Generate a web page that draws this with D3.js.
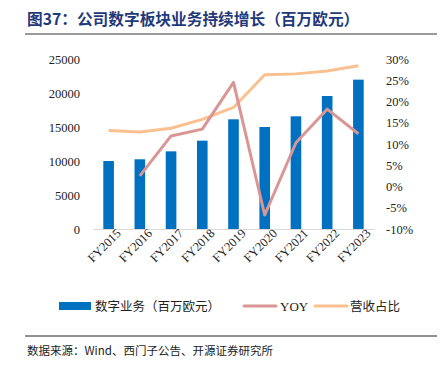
<!DOCTYPE html>
<html>
<head>
<meta charset="utf-8">
<script src="https://cdn.jsdelivr.net/npm/d3@7"></script>
<style>
  body { margin: 0; background: #fff; }
  svg { display: block; }
</style>
</head>
<body>
<div id="chart"></div>
<script>
// data
const years = ["FY2015", "FY2016", "FY2017", "FY2018", "FY2019", "FY2020", "FY2021", "FY2022", "FY2023"];
const digitalRevenue = [10000, 10250, 11420, 12990, 16130, 15000, 16570, 19560, 21960];
const yoy = [null, 2.5, 11.9, 13.5, 24.5, -6.7, 10.3, 18.2, 12.4];
const revenueShare = [13.2, 12.8, 13.7, 15.8, 18.6, 26.3, 26.5, 27.2, 28.4];
const leftTicks = [0, 5000, 10000, 15000, 20000, 25000];
const rightTicks = [-10, -5, 0, 5, 10, 15, 20, 25, 30];

const W = 446, H = 380;
const margin = { top: 59, left: 93, right: 72, bottom: 151 };
const width = W - margin.left - margin.right;
const height = H - margin.top - margin.bottom;

const serif = "'Liberation Serif', 'Times New Roman', serif";
const cjk = "'Noto Sans CJK SC', sans-serif";

const svg = d3.select("#chart").append("svg")
    .attr("width", W)
    .attr("height", H);

// title
svg.append("text")
    .attr("x", 27)
    .attr("y", 25)
    .attr("fill", "#1f3a7a")
    .attr("font-family", cjk)
    .attr("font-weight", "bold")
    .attr("font-size", 15.7)
    .text("图37：公司数字板块业务持续增长（百万欧元）");

svg.append("line")
    .attr("x1", 25).attr("x2", 437)
    .attr("y1", 34).attr("y2", 34)
    .attr("stroke", "#9a9a9a")
    .attr("stroke-width", 2);

const g = svg.append("g")
    .attr("transform", "translate(" + margin.left + "," + margin.top + ")");

const x = d3.scaleBand()
    .domain(years)
    .range([0, width])
    .paddingInner(0.66)
    .paddingOuter(0.33);

const y = d3.scaleLinear()
    .domain([0, 25000])
    .range([height, 0]);

const y2 = d3.scaleLinear()
    .domain([-10, 30])
    .range([height, 0]);

// left axis
const leftAxis = g.append("g")
    .call(d3.axisLeft(y).tickValues(leftTicks).tickSize(0).tickPadding(13)
        .tickFormat(d3.format("d")));
leftAxis.select(".domain").remove();
leftAxis.selectAll("text")
    .attr("font-family", serif)
    .attr("font-size", 12.5)
    .attr("fill", "#222");

// right axis
const rightAxis = g.append("g")
    .attr("transform", "translate(" + width + ",0)")
    .call(d3.axisRight(y2).tickValues(rightTicks).tickSize(0).tickPadding(12)
        .tickFormat(d => d + "%"));
rightAxis.select(".domain").remove();
rightAxis.selectAll("text")
    .attr("font-family", serif)
    .attr("font-size", 12.5)
    .attr("fill", "#222");

// bars
g.selectAll(".bar")
    .data(digitalRevenue)
    .enter().append("rect")
    .attr("class", "bar")
    .attr("x", (d, i) => x(years[i]))
    .attr("y", d => y(d))
    .attr("width", x.bandwidth())
    .attr("height", d => height - y(d))
    .attr("fill", "#0070c0");

// bottom axis
const bottomAxis = g.append("g")
    .attr("transform", "translate(0," + height + ")")
    .call(d3.axisBottom(x).tickSize(0).tickPadding(6));
bottomAxis.select(".domain")
    .attr("stroke", "#d9d9d9");
bottomAxis.selectAll("text")
    .attr("font-family", serif)
    .attr("font-size", 12.5)
    .attr("fill", "#222")
    .attr("text-anchor", "end")
    .attr("dx", "0.45em")
    .attr("dy", "0.55em")
    .attr("transform", "rotate(-45)");

const cx = d => x(d) + x.bandwidth() / 2;

// share line
const shareLine = d3.line()
    .x((d, i) => cx(years[i]))
    .y(d => y2(d));

g.append("path")
    .datum(revenueShare)
    .attr("fill", "none")
    .attr("stroke", "#fac08f")
    .attr("stroke-width", 3)
    .attr("stroke-linejoin", "round")
    .attr("d", shareLine);

// yoy line
const yoyLine = d3.line()
    .defined(d => d != null)
    .x((d, i) => cx(years[i]))
    .y(d => y2(d));

g.append("path")
    .datum(yoy)
    .attr("fill", "none")
    .attr("stroke", "#d99694")
    .attr("stroke-width", 3)
    .attr("stroke-linejoin", "round")
    .attr("d", yoyLine);

// legend
const legend = svg.append("g").attr("transform", "translate(0,306)");

legend.append("rect")
    .attr("x", 59).attr("y", -4)
    .attr("width", 32).attr("height", 8)
    .attr("fill", "#0070c0");
legend.append("text")
    .attr("x", 95).attr("y", 5)
    .attr("font-family", cjk)
    .attr("font-size", 12.5)
    .attr("fill", "#222")
    .text("数字业务（百万欧元）");

legend.append("line")
    .attr("x1", 244).attr("x2", 276)
    .attr("y1", 0).attr("y2", 0)
    .attr("stroke", "#d99694")
    .attr("stroke-width", 3)
    .attr("stroke-linecap", "round");
legend.append("text")
    .attr("x", 280).attr("y", 5)
    .attr("font-family", serif)
    .attr("font-size", 13)
    .attr("fill", "#222")
    .text("YOY");

legend.append("line")
    .attr("x1", 315).attr("x2", 347)
    .attr("y1", 0).attr("y2", 0)
    .attr("stroke", "#fac08f")
    .attr("stroke-width", 3)
    .attr("stroke-linecap", "round");
legend.append("text")
    .attr("x", 350).attr("y", 5)
    .attr("font-family", cjk)
    .attr("font-size", 12.5)
    .attr("fill", "#222")
    .text("营收占比");

// footer
svg.append("line")
    .attr("x1", 25).attr("x2", 437)
    .attr("y1", 336).attr("y2", 336)
    .attr("stroke", "#222")
    .attr("stroke-width", 1);

svg.append("text")
    .attr("x", 27).attr("y", 355)
    .attr("font-family", cjk)
    .attr("font-size", 11.5)
    .attr("fill", "#222")
    .text("数据来源：Wind、西门子公告、开源证券研究所");
</script>
</body>
</html>
